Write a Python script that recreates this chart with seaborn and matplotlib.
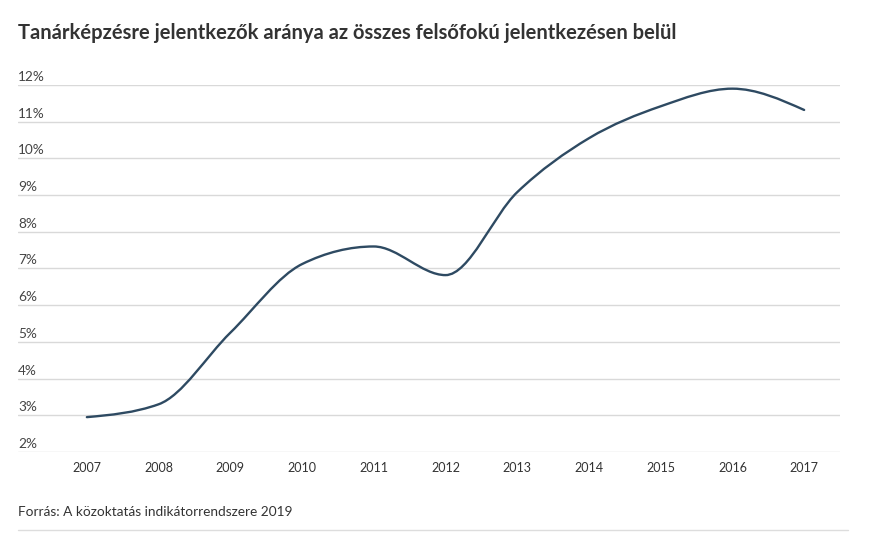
import numpy as np
import pandas as pd
import matplotlib
matplotlib.use("Agg")
import matplotlib.pyplot as plt
from matplotlib.path import Path
from matplotlib.patches import PathPatch
from matplotlib.transforms import ScaledTranslation
import seaborn as sns

title = "Tanárképzésre jelentkezők aránya az összes felsőfokú jelentkezésen belül"
source = "Forrás: A közoktatás indikátorrendszere 2019"
years = [2007, 2008, 2009, 2010, 2011, 2012, 2013, 2014, 2015, 2016, 2017]
share = [2.95, 3.3, 5.25, 7.12, 7.6, 6.82, 9.08, 10.55, 11.42, 11.9, 11.32]
y_ticks = [2, 3, 4, 5, 6, 7, 8, 9, 10, 11, 12]
y_tick_labels = [f"{v}%" for v in y_ticks]

sns.set_theme(style="white")
plt.rcParams["font.family"] = ["Lato", "DejaVu Sans"]

W, H = 877, 548
fig = plt.figure(figsize=(W / 100, H / 100), dpi=100)
ax_left, ax_right, ax_top, ax_bottom = 18, 840, 85, 452
ax = fig.add_axes([ax_left / W, 1 - ax_bottom / H, (ax_right - ax_left) / W, (ax_bottom - ax_top) / H])

df = pd.DataFrame({"year": years, "share": share})
line_color = "#2e4a62"

# seaborn line (data), then rendered as a monotone smooth curve
sns.lineplot(data=df, x="year", y="share", ax=ax, color=line_color, linewidth=0)

x = np.asarray(years, dtype=float)
y = np.asarray(share, dtype=float)
n = len(x)
h = np.diff(x)
s = np.diff(y) / h
t = np.zeros(n)
for i in range(1, n - 1):
    h0, h1, s0, s1 = h[i - 1], h[i], s[i - 1], s[i]
    p = (s0 * h1 + s1 * h0) / (h0 + h1)
    t[i] = (np.sign(s0) + np.sign(s1)) * min(abs(s0), abs(s1), 0.5 * abs(p))
t[0] = (3 * s[0] - t[1]) / 2
t[-1] = (3 * s[-1] - t[-2]) / 2
verts = [(x[0], y[0])]
codes = [Path.MOVETO]
for i in range(n - 1):
    dx = (x[i + 1] - x[i]) / 3
    verts += [(x[i] + dx, y[i] + dx * t[i]), (x[i + 1] - dx, y[i + 1] - dx * t[i + 1]), (x[i + 1], y[i + 1])]
    codes += [Path.CURVE4] * 3
ax.add_patch(PathPatch(Path(verts, codes), facecolor="none", edgecolor=line_color, linewidth=1.7,
                       capstyle="round", joinstyle="round", zorder=3))

ax.set_xlim(2006.04, 2017.5)
ax.set_ylim(2, 12)
ax.set_yticks(y_ticks)
ax.set_yticklabels([])
ax.set_xticks(years)
ax.set_xticklabels([str(v) for v in years], fontsize=9, color="#333333")
ax.tick_params(axis="x", length=0, pad=7)
ax.tick_params(axis="y", length=0)
ax.grid(axis="y", color="#d9d9d9", linewidth=1.0)
ax.grid(axis="x", visible=False)
for sp in ax.spines.values():
    sp.set_visible(False)
ax.set_xlabel("")
ax.set_ylabel("")

off = ScaledTranslation(0, 1.5 / 72, fig.dpi_scale_trans)
for v, lab in zip(y_ticks, y_tick_labels):
    ax.text(0, v, lab, transform=ax.get_yaxis_transform() + off, ha="left", va="bottom",
            fontsize=9.8, color="#444444")

fig.text(18 / W, 1 - 33 / H, title, ha="left", va="center", fontsize=14.5, fontweight="bold", color="#333333")
fig.text(18 / W, 1 - 512 / H, source, ha="left", va="center", fontsize=9.8, color="#333333")
fig.add_artist(plt.Line2D([18 / W, 848 / W], [1 - 530 / H, 1 - 530 / H], color="#dddddd", linewidth=1.0))

fig.savefig("out.png", dpi=100, facecolor="white")
